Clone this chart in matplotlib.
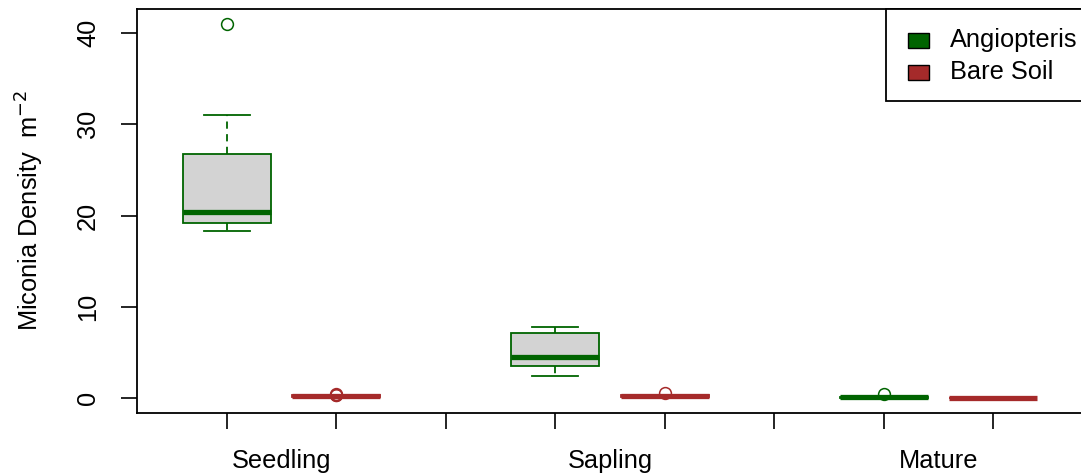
import matplotlib.pyplot as plt
from matplotlib.patches import Rectangle

plt.rcParams['font.family'] = ['Liberation Sans', 'DejaVu Sans']

stages = ['Seedling', 'Sapling', 'Mature']
groups = ['Angiopteris', 'Bare Soil']
group_colors = ['#006400', '#A52A2A']
positions = [1, 2, 4, 5, 7, 8]

# box stats, order: Seedling-Angio, Seedling-Bare, Sapling-Angio, Sapling-Bare, Mature-Angio, Mature-Bare
whislo = [18.3, 0.0, 2.4, 0.0, 0.0, 0.0]
q1 = [19.2, 0.1, 3.5, 0.1, 0.0, 0.0]
med = [20.4, 0.2, 4.5, 0.2, 0.1, 0.0]
q3 = [26.8, 0.3, 7.1, 0.3, 0.1, 0.0]
whishi = [31.0, 0.3, 7.8, 0.3, 0.2, 0.0]
fliers = [[41.0], [0.3, 0.35, 0.45], [], [0.55], [0.4], []]

W, H = 1081, 474
fig = plt.figure(figsize=(W / 100, H / 100), dpi=100)
ax = fig.add_axes([137 / W, (H - 413) / H, 946 / W, 404 / H])

for i, pos in enumerate(positions):
    col = group_colors[i % 2]
    st = [dict(whislo=whislo[i], q1=q1[i], med=med[i], q3=q3[i],
               whishi=whishi[i], fliers=fliers[i])]
    ax.bxp(st, positions=[pos], widths=0.8, patch_artist=True,
           boxprops=dict(facecolor='#D3D3D3', edgecolor=col, linewidth=1.3),
           medianprops=dict(color=col, linewidth=3.8, solid_capstyle='butt'),
           whiskerprops=dict(color=col, linewidth=1.3, linestyle=(0, (4, 3))),
           capprops=dict(color=col, linewidth=1.3),
           capwidths=0.42,
           flierprops=dict(marker='o', markerfacecolor='none',
                           markeredgecolor=col, markersize=8.5,
                           markeredgewidth=1.1))

ax.set_xlim(0.18, 8.82)
ax.set_ylim(-1.64, 42.64)
ax.set_yticks([0, 10, 20, 30, 40])
ax.set_xticks(range(1, 9))
ax.set_xticklabels([])
ax.set_xticks([1.5, 4.5, 7.5], minor=True)
ax.set_xticklabels(stages, minor=True, fontsize=18.3)
ax.tick_params(axis='x', which='major', length=11.5, width=1.2)
ax.tick_params(axis='x', which='minor', length=0, pad=26)
ax.tick_params(axis='y', length=11.5, width=1.2, pad=15, labelsize=18.3)
for lab in ax.get_yticklabels():
    lab.set_rotation(90)
    lab.set_va('center')
    lab.set_ha('right')
for sp in ax.spines.values():
    sp.set_linewidth(1.3)

fig.text(30 / W, 1 - 211 / H, 'Miconia Density  m$^{-2}$', rotation=90,
         ha='center', va='center', fontsize=18.3)


def fx(x):
    return x / W


def fy(y):
    return 1 - y / H


# legend
fig.add_artist(Rectangle((fx(886), fy(101)), fx(1090) - fx(886), fy(9) - fy(101),
                         transform=fig.transFigure, facecolor='white',
                         edgecolor='black', linewidth=1.3))
for k, (name, col) in enumerate(zip(groups, group_colors)):
    yc = 40 + 32 * k
    fig.add_artist(Rectangle((fx(908), fy(yc + 7.5)), fx(929) - fx(908), 15 / H,
                             transform=fig.transFigure, facecolor=col,
                             edgecolor='black', linewidth=1.0))
    fig.text(fx(950), fy(yc), name, ha='left', va='center', fontsize=18.3)

fig.savefig('out.png', dpi=100)
